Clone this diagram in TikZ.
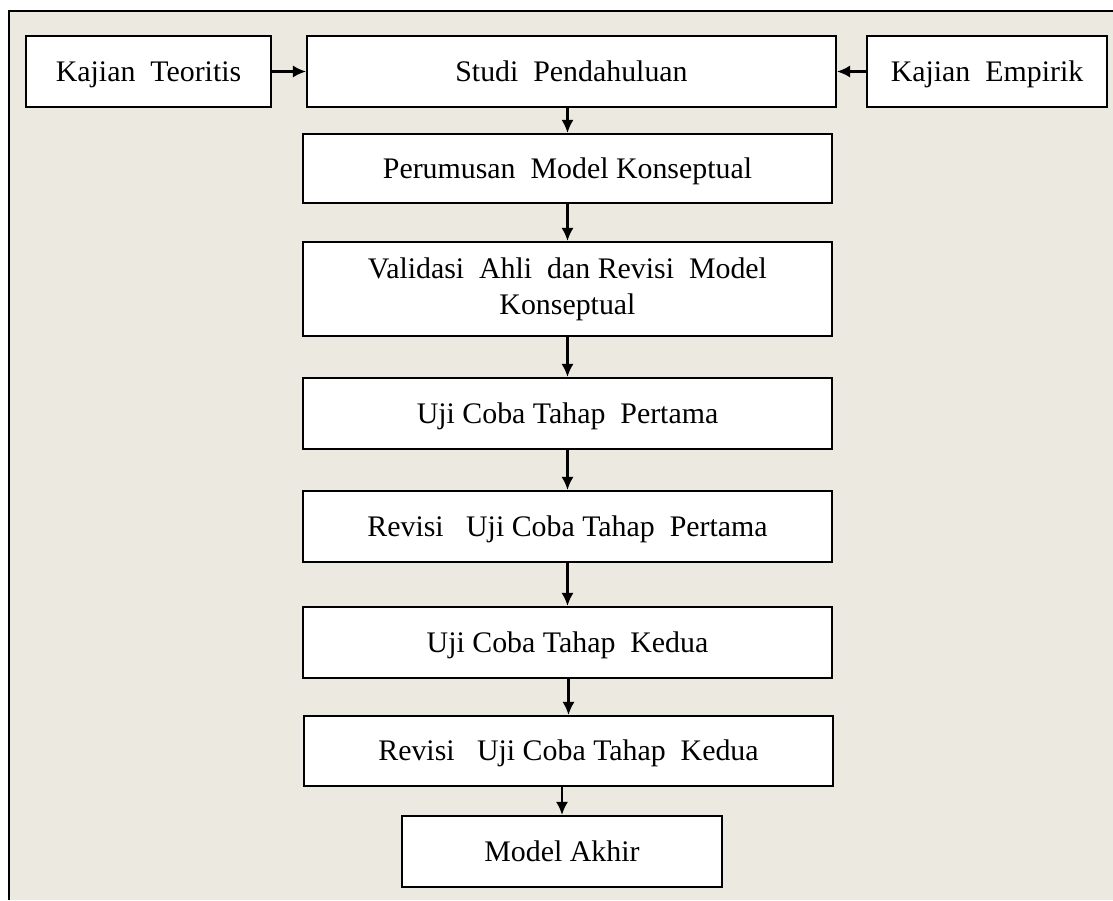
\documentclass[tikz,border=0pt]{standalone}
\usepackage{fontspec}
\setmainfont{Liberation Serif}
\usetikzlibrary{arrows.meta}

\definecolor{panelbg}{RGB}{236,233,224}

\tikzset{
    stage/.style={draw, line width=1.2pt, fill=white, inner sep=0pt, align=center,
        minimum width=10.58cm, minimum height=1.42cm,
        font=\fontsize{17}{20.5}\selectfont},
    oneline/.style={text height=15pt, text depth=3.7pt},
    flow/.style={-{Latex[length=7.5pt,width=7pt]}, line width=1.3pt},
}

\begin{document}
\begin{tikzpicture}[x=0.02cm, y=-0.02cm]

\useasboundingbox (0,0) rectangle (1113,900);

% Panel
\fill[white] (0,0) rectangle (1113,900);
\fill[panelbg] (9,11) rectangle (1113,900);
\draw[line width=1.2pt] (9,900) -- (9,11) -- (1113,11);

% Top row
\node[stage, oneline, minimum width=4.9cm] (teori) at (148.5,71.5) {Kajian\ \ Teoritis};
\node[stage, oneline] (studi) at (571.5,71.5) {Studi\ \ Pendahuluan};
\node[stage, oneline, minimum width=4.8cm] (empirik) at (987,71.5) {Kajian\ \ Empirik};

% Stages
\node[stage, oneline, minimum height=1.38cm] (perumusan) at (567.5,168.5) {Perumusan\ \ Model Konseptual};
\node[stage, minimum height=1.88cm] (validasi) at (567.5,289) {Validasi\ \ Ahli\ \ dan Revisi\ \ Model\\Konseptual};
\node[stage, oneline] (uji1) at (567.5,413.5) {Uji Coba Tahap\ \ Pertama};
\node[stage, oneline] (revisi1) at (567.5,526.5) {Revisi\ \ \ Uji Coba Tahap\ \ Pertama};
\node[stage, oneline] (uji2) at (567.5,642.5) {Uji Coba Tahap\ \ Kedua};
\node[stage, oneline, minimum height=1.4cm] (revisi2) at (568.5,751) {Revisi\ \ \ Uji Coba Tahap\ \ Kedua};
\node[stage, oneline, minimum width=6.4cm] (akhir) at (562,851.5) {Model\ Akhir};

% Arrows
\draw[flow] (teori) -- (studi);
\draw[flow] (empirik) -- (studi);
\foreach \a/\b in {studi/perumusan, perumusan/validasi, validasi/uji1,
                   uji1/revisi1, revisi1/uji2, uji2/revisi2, revisi2/akhir}
{
    \draw[flow] (\b.north |- \a.south) -- (\b.north);
}

\end{tikzpicture}
\end{document}
